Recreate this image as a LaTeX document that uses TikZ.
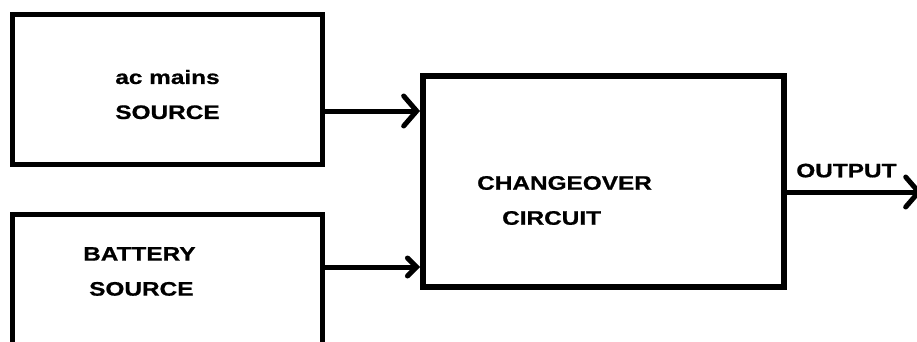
\documentclass[tikz,border=0pt]{standalone}
\usepackage{fontspec}
\newfontfamily\blockfont[FakeStretch=1.25,FakeBold=0.8]{Liberation Sans Bold}
\usetikzlibrary{arrows.meta,positioning}

\begin{document}
\begin{tikzpicture}[x=1pt,y=1pt,node distance=45pt,
  every node/.style={font=\blockfont\fontsize{19.5}{35}\selectfont},
  box/.style={draw,line width=5pt,minimum width=310pt,minimum height=150pt,inner sep=0pt},
  bigbox/.style={draw,line width=6pt,minimum width=361pt,minimum height=211pt,inner sep=0pt},
  lbl/.style={inner sep=0pt},
  feed/.style={line width=5pt,-{Straight Barb[length=13pt,width=30pt,line cap=round]}},
  feedsmall/.style={line width=5pt,-{Straight Barb[length=9pt,width=18pt,line cap=round]}}]
\clip (0,0) rectangle (917,341);
\node[box] (mains) at (167.5,251.5) {};
\node[box,below=of mains] (batt) {};
\node[bigbox] (chg) at (603.5,159.5) {};
\node[lbl,align=center] (mainstxt) at ([yshift=-5pt]mains.center) {ac mains\\SOURCE};
\node[lbl,align=left,anchor=west] (batttxt) at (83,69.5) {BATTERY\\\hspace{6pt}SOURCE};
\node[lbl,align=left,anchor=west] (chgtxt) at (477,140.5) {CHANGEOVER\\\hspace{25pt}CIRCUIT};
\coordinate (out) at (922,149);
\draw[feed] ([yshift=-21.5pt]mains.east) -- ([yshift=-21.5pt]mains.east -| chg.west);
\draw[feedsmall] ([yshift=22.5pt]batt.east) -- ([yshift=22.5pt]batt.east -| chg.west);
\draw[feed] ([yshift=-10.5pt]chg.east) -- (out) node[lbl,pos=0.44,above=12pt] (outtxt) {OUTPUT};
\end{tikzpicture}
\end{document}
